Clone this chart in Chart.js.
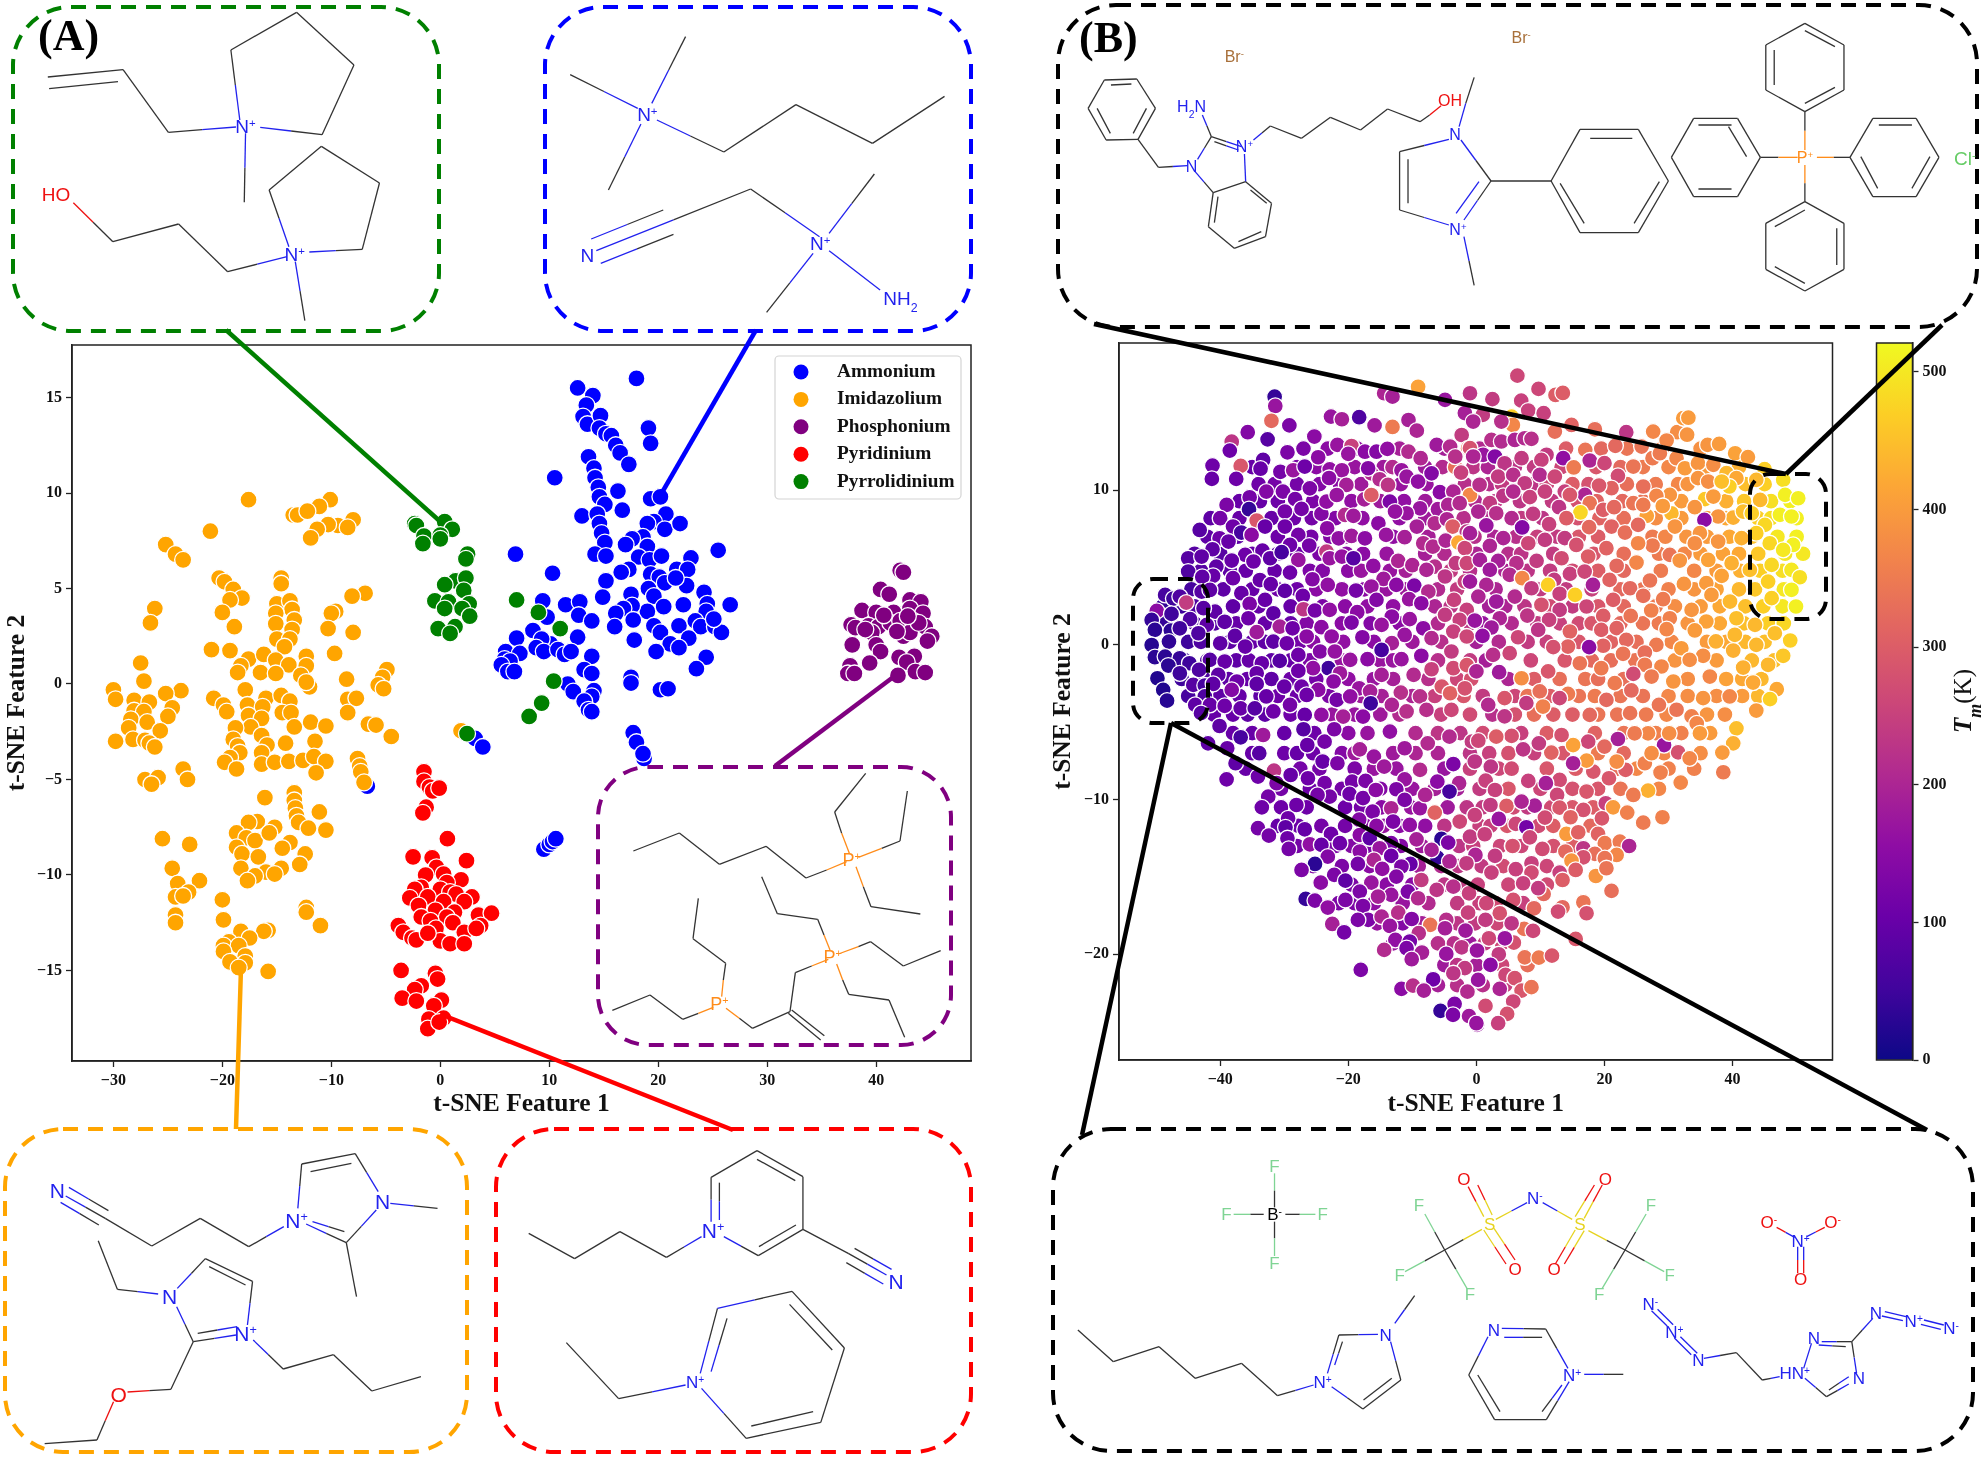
<!DOCTYPE html>
<html lang="en">
<head>
<meta charset="UTF-8" />
<title>t-SNE of ionic liquids</title>
<script src="https://cdnjs.cloudflare.com/ajax/libs/Chart.js/4.4.1/chart.umd.min.js"></script>
<style>
html, body { margin:0; background:#fff; }
#page { position:relative; width:1983px; height:1458px; overflow:hidden; }
canvas { position:absolute; }
svg { position:absolute; left:0; top:0; }
</style>
</head>
<body>
<div id="page">
<canvas id="chartA" width="975" height="815" style="left:0;top:305px"></canvas>
<canvas id="chartB" width="796" height="815" style="left:1040px;top:305px"></canvas>
<canvas id="chartBar" width="113" height="815" style="left:1870px;top:305px"></canvas>
<svg id="over" width="1983" height="1458" xmlns="http://www.w3.org/2000/svg"></svg>
</div>
<script>
// panel A, values
const seriesNames = ['Ammonium','Imidazolium','Phosphonium','Pyridinium','Pyrrolidinium'];
const seriesColors = ['#0000ff','#ffa500','#800080','#ff0000','#008000'];
const ammonium = [[12.6,15.5],[18,16],[14,15.1],[13.4,14.6],[13.1,14],[13.5,13.6],[14.7,14.05],[14.6,13.4],[15.2,13.1],[15.7,13],[16.1,12.5],[16.5,12.1],[17.3,11.5],[19.1,13.4],[19.3,12.6],[13.6,11.9],[14.1,11.3],[14.2,10.8],[14.5,10.3],[14.6,9.8],[15.1,9.4],[10.5,10.8],[16.3,10.1],[16.7,9.1],[19.3,9.7],[20.2,9.8],[13,8.8],[14.4,8.9],[14.6,8.4],[14.8,7.9],[15.1,7.4],[20.7,8.9],[19.6,8.5],[19,8.4],[20.6,8.1],[22,8.4],[25.5,7],[6.9,6.8],[18.6,7.7],[17.6,7.6],[17,7.3],[19,7.2],[14.2,6.8],[15.2,6.7],[18.2,6.65],[19.2,6.5],[20.3,6.7],[23,6.6],[17.3,6],[16.6,5.85],[10.3,5.8],[15.2,5.4],[19.3,5.75],[20.1,5.6],[21.7,6],[22.7,6],[20.6,5.3],[22.6,5.15],[21.6,5.55],[19.1,5],[19.6,4.6],[17.5,4.7],[14.9,4.55],[9.4,4.35],[11.5,4.15],[12.8,4.3],[24.2,4.8],[26.6,4.15],[22.3,4.15],[20.5,4.05],[19,3.8],[17.6,4.1],[16.8,3.95],[16.1,3.7],[24.5,4.2],[24.4,3.8],[12.7,3.6],[9.8,3.5],[13.9,3.3],[17.7,3.35],[19.6,3.05],[21.9,3.05],[23.4,3.3],[23.9,3],[25.2,3],[25.8,2.7],[25.1,3.4],[16,3],[20.2,2.7],[22.8,2.4],[8.5,2.8],[7,2.4],[12.6,2.45],[17.8,2.3],[10.1,2.1],[9.3,2.35],[8.8,1.9],[9.5,1.7],[21.1,2.1],[21.9,1.9],[19.8,1.7],[24.4,1.4],[6,1.7],[7.3,1.6],[5.9,1.3],[6.4,1.2],[5.6,1],[6.2,0.65],[6.8,0.65],[10.8,1.8],[11.4,1.55],[12,1.7],[13.9,1.45],[13.2,0.75],[13.9,0.55],[23.5,0.8],[17.5,0.35],[17.5,0.05],[11.7,0],[14.1,-0.35],[12.2,-0.4],[13.9,-0.65],[20.2,-0.3],[20.9,-0.25],[13.2,-0.9],[13.6,-1.35],[13.9,-1.45],[17.7,-2.55],[18,-3.05],[18.7,-3.9],[18.6,-3.65],[3.2,-2.85],[3.9,-3.3],[-6.7,-5.35],[9.5,-8.65],[10,-8.4],[10.3,-8.25],[10.6,-8.1]];
const imidazolium = [[-17.6,9.65],[-10.1,9.65],[-11.1,9.3],[-13.5,8.85],[-13.1,8.85],[-12.2,9.05],[-21.1,8],[-8,8.6],[-9.4,8.3],[-10.3,8.35],[-11.3,8.1],[-11.9,7.65],[-8.5,8.2],[-25.2,7.3],[-24.3,6.8],[-23.6,6.5],[-20.3,5.55],[-19.8,5.35],[-19,4.95],[-18.2,4.5],[-19.3,4.4],[-14.6,5.55],[-14.6,5.25],[-6.9,4.75],[-8.1,4.6],[-26.2,3.95],[-20,3.75],[-9.6,3.8],[-10,3.7],[-26.6,3.2],[-18.9,3],[-15,4.2],[-13.8,4.35],[-13.6,3.9],[-15.1,3.7],[-13.4,3.35],[-15.1,3.15],[-13.6,2.85],[-15,2.35],[-10.3,2.9],[-8,2.7],[-13.8,2.35],[-21,1.8],[-19.3,1.75],[-17.6,1.3],[-16.2,1.55],[-14.3,1.95],[-9.7,1.6],[-12.3,1.45],[-15.1,1.25],[-13.9,1],[-27.5,1.1],[-12.3,0.95],[-18.3,0.95],[-18.6,0.6],[-16.5,0.6],[-15.1,0.55],[-12.8,0.45],[-27.2,0.15],[-8.6,0.25],[-4.9,0.75],[-5.3,0.35],[-5.7,-0.05],[-5.2,-0.25],[-12,-0.15],[-12.3,0.1],[-17.9,-0.3],[-23.8,-0.35],[-25.2,-0.5],[-30,-0.3],[-29.8,-0.8],[-28.1,-0.85],[-26.7,-0.95],[-20.8,-0.75],[-19.9,-1.1],[-16,-0.75],[-14.6,-0.6],[-13.8,-0.9],[-8.5,-0.8],[-7.7,-0.75],[-17.7,-1.1],[-16.3,-1.2],[-24.6,-1.25],[-28.1,-1.4],[-27.2,-1.45],[-25,-1.7],[-19.6,-1.45],[-17.6,-1.65],[-16.4,-1.8],[-14.5,-1.5],[-13.7,-1.5],[-8.5,-1.5],[-28.4,-1.85],[-26.9,-2],[-17.4,-2.25],[-11.9,-2],[-6.6,-2.1],[-5.9,-2.15],[-10.5,-2.2],[-13.4,-2.25],[-28.6,-2.3],[-25.7,-2.45],[-18.8,-2.3],[-16.4,-2.7],[-4.5,-2.75],[1.9,-2.45],[-29.8,-3],[-28.2,-2.9],[-27.1,-2.95],[-26.7,-3.1],[-26.2,-3.3],[-19,-2.9],[-18.6,-3.25],[-18.4,-3.6],[-14.2,-3.1],[-15.9,-3.2],[-11.5,-3],[-19.3,-3.85],[-19.8,-4.1],[-16.4,-3.6],[-16.4,-4.2],[-15.2,-4.1],[-13.9,-4.05],[-12.6,-4],[-11.6,-3.8],[-10.5,-4.05],[-7.6,-3.9],[-7.4,-4.3],[-7.3,-4.6],[-18.7,-4.45],[-11.4,-4.65],[-23.6,-4.45],[-23.2,-5],[-27.1,-5],[-25.9,-4.9],[-26.5,-5.25],[-7,-5.15],[-13.4,-5.7],[-13.4,-6.1],[-16.1,-5.95],[-13.3,-6.5],[-13.2,-6.9],[-11.1,-6.7],[-16.8,-7.2],[-17.6,-7.25],[-13,-7.25],[-15.2,-7.5],[-12.1,-7.55],[-10.5,-7.65],[-18.7,-7.8],[-17.8,-8.05],[-17,-8.2],[-15.7,-7.8],[-25.5,-8.1],[-23,-8.4],[-13.8,-8.3],[-14.5,-8.6],[-18.7,-8.55],[-18.2,-8.9],[-16.7,-9.05],[-12.4,-8.9],[-12.9,-9.45],[-18.3,-9.65],[-24.6,-9.65],[-16,-9.85],[-14.6,-9.65],[-15.2,-9.95],[-17,-10.05],[-17.7,-10.3],[-22.1,-10.3],[-24.1,-10.45],[-23.1,-10.9],[-24.3,-11.15],[-23.6,-11.1],[-20,-11.3],[-12.3,-11.7],[-12.3,-11.95],[-24.3,-12.1],[-24.3,-12.5],[-19.9,-12.35],[-11,-12.65],[-18.3,-12.95],[-15.8,-12.9],[-16.2,-12.95],[-19.4,-13.5],[-17.5,-13.3],[-19.9,-13.7],[-18.5,-13.7],[-19.9,-14],[-17.9,-14.25],[-19.3,-14.55],[-17.9,-14.6],[-18.5,-14.85],[-15.8,-15.05]];
const phosphonium = [[42.2,5.95],[42.5,5.85],[40.4,4.95],[41.2,4.7],[43.1,4.4],[44.1,4.3],[38.7,3.85],[40,3.75],[41.6,3.75],[43.1,3.95],[44.3,3.7],[37.7,3.1],[38.1,2.95],[39.3,3.05],[40.2,3],[41.3,3.2],[42.2,3.3],[43.4,3.3],[44.5,3],[39.6,2.7],[42.5,2.5],[43.1,2.7],[45.1,2.5],[44.7,2.25],[37.8,2.05],[40,2.05],[40.4,1.7],[42.1,1.4],[43.5,1.45],[39.4,1.1],[37.6,0.95],[42.8,1.15],[37.4,0.55],[38,0.55],[42,0.45],[43.6,0.65],[44.5,0.6],[40.7,3.6],[41.9,2.75],[43.9,3.2],[39,2.85],[42.9,3.55]];
const pyridinium = [[-1.5,-4.6],[-1.5,-5.1],[-1,-5.4],[-0.7,-5.6],[-0.1,-5.45],[-1.3,-6.45],[-1.6,-6.75],[0.65,-8.1],[-2.5,-9.05],[-0.75,-9.1],[2.4,-9.25],[-0.35,-9.6],[0.3,-9.95],[-1.35,-10],[1.9,-10.25],[0.6,-10.4],[-1.75,-10.65],[-2.35,-10.75],[0,-10.75],[0.9,-10.9],[1.45,-11],[-2.8,-11.2],[-1.15,-11.15],[2.9,-11.15],[-2,-11.6],[0.3,-11.4],[2.2,-11.4],[-0.45,-11.85],[-1.75,-12.2],[1.3,-11.95],[3.5,-12.1],[4.7,-12],[0.6,-12.2],[-0.9,-12.4],[1.15,-12.5],[3.7,-12.65],[-3.85,-12.65],[-0.4,-12.8],[-3.4,-13],[-2.6,-13.3],[-2.2,-13.4],[2.2,-13],[3.3,-12.8],[0,-13.45],[0.9,-13.6],[2.2,-13.6],[-1.15,-13.05],[-3.6,-15],[-0.45,-15.15],[-0.25,-15.45],[-1.75,-15.8],[-2.35,-16],[-3.5,-16.45],[-2.2,-16.6],[0.1,-16.55],[-0.6,-16.85],[0.3,-17.5],[-1.05,-17.55],[-1.15,-18.05],[-0.1,-17.7]];
const pyrrolidinium = [[-2.35,8.4],[-2.2,8.3],[-1.5,7.75],[-1.6,7.35],[0.4,8.5],[1.1,8.1],[0,7.8],[0,7.6],[2.5,6.8],[2.35,6.55],[1.4,5.4],[0.4,5.2],[2.35,5.55],[2.15,4.9],[-0.5,4.35],[0.75,4.3],[2.65,4.2],[0.4,3.95],[2,3.95],[2.7,3.55],[-0.2,2.9],[1.35,3],[0.9,2.65],[7,4.4],[9,3.75],[11,2.9],[10.4,0.15],[9.3,-1],[8.15,-1.7],[2.45,-2.6]];
const xTicksA = [-30,-20,-10,0,10,20,30,40];
const yTicksA = [-15,-10,-5,0,5,10,15];

// panel B, [feature 1, feature 2, Tm in K]
const tmBehind = [[-27,12.7,130],[-23.2,12.7,150],[-18.6,12.7,160],[-12,12.7,190],[-5,12.7,190],[0.5,12.7,210],[14,12.7,300],[19.5,12.7,320],[23.5,12.7,340],[29,12.7,360],[35,12.7,385],
[-35,11.5,100],[-28,11.5,130],[-25,11.5,150],[-19,11.5,170],[-14.5,11.5,180],[-8,11.5,180],[-5.3,11.5,210],[-0.5,11.5,230],[1.8,11.5,200],[6,11.5,230],[9,11.5,240],[13.3,11.5,260],[18.7,11.5,290],[22.5,11.5,320],[26,11.5,350],[30,11.5,370],[35.8,11.5,400],[41,11.5,430],
[-34,10.4,110],[-31.5,10.4,120],[-28,10.4,120],[-24.5,10.4,140],[-21.3,10.4,150],[-18,10.4,180],[-11.8,10.4,170],[-7.8,10.4,170],[-1.8,10.4,220],[2,10.4,220],[4,10.4,240],[8.8,10.4,230],[11,10.4,260],[15,10.4,300],[17.5,10.4,280],[23.5,10.4,330],[28,10.4,350],[31.5,10.4,370],[33,10.4,390],[42,10.4,450],[45,10.4,470],
[-37,9.3,100],[-33.8,9.3,100],[-31,9.3,110],[-25.5,9.3,130],[-19.5,9.3,160],[-15,9.3,180],[-11.3,9.3,160],[-8,9.3,180],[-0.2,9.3,210],[3,9.3,230],[6.8,9.3,230],[11.8,9.3,240],[15.8,9.3,280],[18.8,9.3,310],[22.8,9.3,320],[26,9.3,340],[32,9.3,400],[39,9.3,430],[41.8,9.3,460],[46,9.3,490],[49,9.3,510],
[-41.5,8.2,90],[-37,8.2,100],[-32,8.2,100],[-28.5,8.2,110],[-25.7,8.2,120],[-22,8.2,140],[-17.8,8.2,160],[-12,8.2,160],[-8,8.2,180],[-2,8.2,220],[1.8,8.2,210],[7,8.2,240],[10.3,8.2,230],[15.8,8.2,280],[19.2,8.2,310],[23,8.2,330],[28,8.2,380],[32,8.2,400],[36,8.2,400],[39,8.2,420],[44,8.2,470],[46,8.2,490],[50,8.2,510],
[-42,7,90],[-37.3,7,90],[-31,7,110],[-25.8,7,120],[-22.8,7,140],[-20,7,170],[-13,7,160],[-7.5,7,190],[-0.3,7,220],[2.8,7,200],[6.2,7,220],[9.5,7,250],[12.6,7,240],[16,7,290],[19,7,300],[27.5,7,350],[29.5,7,370],[32.8,7,390],[36,7,400],[39.5,7,420],[43,7,450],[47,7,500],[50,7,510],
[-44,5.9,80],[-40,5.9,80],[-35,5.9,100],[-31,5.9,90],[-28,5.9,110],[-24.5,5.9,130],[-20.3,5.9,150],[-17.7,5.9,150],[-14,5.9,170],[-8,5.9,190],[-5,5.9,210],[0,5.9,200],[5,5.9,220],[7,5.9,230],[12,5.9,240],[18.3,5.9,290],[23,5.9,330],[28.5,5.9,350],[32.5,5.9,370],[35,5.9,400],[38.5,5.9,410],[41,5.9,420],[44,5.9,460],[48.2,5.9,500],[51,5.9,500],
[-43,4.8,80],[-38.5,4.8,90],[-36,4.8,100],[-31.5,4.8,100],[-26,4.8,130],[-24,4.8,140],[-20,4.8,150],[-18,4.8,170],[-13.5,4.8,170],[-11,4.8,190],[-4,4.8,240],[-1,4.8,220],[4.5,4.8,200],[8,4.8,230],[11.5,4.8,240],[15,4.8,270],[19,4.8,300],[23,4.8,320],[28.8,4.8,350],[34,4.8,370],[37.5,4.8,400],[41.2,4.8,430],[44.3,4.8,470],[47.8,4.8,490],
[-44.5,3.6,60],[-39.5,3.6,90],[-35,3.6,100],[-31,3.6,110],[-28,3.6,110],[-25,3.6,150],[-21,3.6,160],[-17.5,3.6,150],[-14,3.6,170],[-11,3.6,180],[-6,3.6,210],[-3,3.6,240],[3,3.6,200],[10,3.6,240],[14,3.6,240],[18,3.6,250],[22.5,3.6,320],[26,3.6,340],[30,3.6,360],[34,3.6,390],[37.5,3.6,410],[41,3.6,440],[43.5,3.6,460],[48,3.6,500],
[-49,2.5,40],[-46,2.5,50],[-44,2.5,70],[-38,2.5,90],[-34,2.5,100],[-29,2.5,100],[-24,2.5,130],[-20.5,2.5,150],[-17,2.5,160],[-13,2.5,160],[-6.5,2.5,200],[-4,2.5,230],[2,2.5,190],[4.5,2.5,200],[7.5,2.5,230],[11.5,2.5,270],[15,2.5,240],[19,2.5,290],[23,2.5,320],[28,2.5,350],[31,2.5,380],[35,2.5,400],[38,2.5,420],[42,2.5,450],[44.8,2.5,470],[47.8,2.5,500],
[-48.8,1.4,40],[-44,1.4,70],[-40.8,1.4,80],[-37.5,1.4,100],[-33,1.4,100],[-29,1.4,100],[-26.5,1.4,140],[-21,1.4,150],[-16.5,1.4,140],[-12,1.4,150],[-6,1.4,210],[-1,1.4,230],[1,1.4,170],[5.5,1.4,210],[9.5,1.4,240],[13,1.4,250],[16,1.4,270],[18,1.4,290],[22.5,1.4,320],[26,1.4,340],[28.5,1.4,350],[33,1.4,390],[38,1.4,420],[41.8,1.4,450],[45.5,1.4,470],[48,1.4,480],
[-45,0.2,50],[-43,0.2,70],[-38.5,0.2,90],[-35,0.2,100],[-33,0.2,90],[-27.5,0.2,120],[-25.5,0.2,150],[-20.8,0.2,160],[-16,0.2,150],[-10,0.2,180],[-5.5,0.2,220],[0,0.2,190],[3.5,0.2,210],[8,0.2,240],[11,0.2,250],[16,0.2,290],[21,0.2,310],[25,0.2,330],[30.5,0.2,370],[36,0.2,400],[39,0.2,420],[42,0.2,440],[45,0.2,450],
[-45.5,-1,40],[-42,-1,70],[-37.5,-1,90],[-35.5,-1,100],[-32,-1,90],[-29,-1,100],[-26,-1,130],[-21,-1,170],[-15,-1,170],[-13,-1,170],[-6,-1,220],[-1,-1,240],[1.5,-1,190],[8.5,-1,260],[13.8,-1,290],[18,-1,320],[21,-1,330],[24.8,-1,340],[31,-1,390],[37.5,-1,400],[43,-1,440],[46.5,-1,450],
[-46,-2.2,50],[-42.5,-2.2,70],[-38.7,-2.2,90],[-35.8,-2.2,100],[-32,-2.2,90],[-29,-2.2,110],[-25,-2.2,120],[-20,-2.2,160],[-16,-2.2,170],[-13,-2.2,190],[-7.5,-2.2,220],[-3,-2.2,260],[-0.8,-2.2,280],[5,-2.2,200],[9,-2.2,300],[13,-2.2,330],[17,-2.2,340],[19,-2.2,330],[23,-2.2,330],[33,-2.2,380],[39,-2.2,410],[41.5,-2.2,420],[44.5,-2.2,440],
[-45,-3.3,60],[-40,-3.3,90],[-37,-3.3,100],[-33.7,-3.3,90],[-31,-3.3,110],[-28,-3.3,110],[-23,-3.3,130],[-18,-3.3,180],[-14.8,-3.3,190],[-10,-3.3,200],[-6.5,-3.3,250],[-2,-3.3,290],[1,-3.3,240],[6,-3.3,260],[8,-3.3,340],[11.5,-3.3,300],[16,-3.3,340],[18.5,-3.3,350],[22.5,-3.3,340],[26,-3.3,340],[30,-3.3,370],[33,-3.3,380],[37.5,-3.3,380],[41.5,-3.3,400],[44,-3.3,440],
[-41,-4.5,100],[-38,-4.5,100],[-35.7,-4.5,90],[-33,-4.5,90],[-29,-4.5,110],[-22.5,-4.5,170],[-19,-4.5,170],[-15,-4.5,180],[-12,-4.5,210],[-5.5,-4.5,250],[-1,-4.5,270],[2.5,-4.5,220],[6,-4.5,280],[9,-4.5,330],[12,-4.5,300],[15,-4.5,300],[19,-4.5,340],[22,-4.5,340],[26.5,-4.5,350],[29.7,-4.5,370],[36,-4.5,390],[38.8,-4.5,380],
[-38,-5.7,100],[-35,-5.7,100],[-30,-5.7,100],[-25.3,-5.7,110],[-20,-5.7,150],[-17,-5.7,170],[-9.5,-5.7,210],[-6,-5.7,230],[-2.5,-5.7,230],[1,-5.7,270],[7,-5.7,250],[11,-5.7,300],[18.5,-5.7,310],[23,-5.7,340],[28,-5.7,360],[32,-5.7,360],[36.5,-5.7,400],
[-35,-7,100],[-30,-7,110],[-28,-7,100],[-25.5,-7,110],[-21,-7,140],[-19,-7,180],[-13,-7,180],[-9.5,-7,200],[-6,-7,200],[-1,-7,230],[2,-7,250],[5,-7,280],[9,-7,250],[13.5,-7,290],[19,-7,350],[23,-7,320],[29.3,-7,370],[35,-7,380],
[-36,-8,100],[-27.5,-8,120],[-24.5,-8,120],[-19,-8,130],[-16,-8,170],[-12.5,-8,170],[-5,-8,170],[-1,-8,250],[3.5,-8,260],[5.5,-8,270],[11,-8,290],[15.5,-8,300],[22,-8,330],[25,-8,370],[30,-8,360],[34,-8,360],
[-30.5,-9.3,120],[-26,-9.3,110],[-21,-9.3,120],[-15,-9.3,140],[-10,-9.3,170],[-6.5,-9.3,190],[-3,-9.3,190],[0.5,-9.3,240],[5,-9.3,290],[10,-9.3,260],[15,-9.3,280],[19,-9.3,290],[22.5,-9.3,340],[28.5,-9.3,370],
[-30.5,-10.5,110],[-26.5,-10.5,110],[-20.5,-10.5,110],[-18,-10.5,120],[-14.8,-10.5,150],[-10.2,-10.5,170],[-4.5,-10.5,180],[-1.5,-10.5,230],[1,-10.5,240],[5.8,-10.5,270],[8,-10.5,240],[11.7,-10.5,270],[15,-10.5,290],[18.2,-10.5,300],
[-31,-11.7,100],[-27.8,-11.7,110],[-20.5,-11.7,120],[-17,-11.7,150],[-14.5,-11.7,170],[-12,-11.7,150],[-8,-11.7,160],[-5,-11.7,230],[0.5,-11.7,250],[2.2,-11.7,250],[4.8,-11.7,290],[9.7,-11.7,270],[12,-11.7,300],[17.8,-11.7,320],
[-28,-13,120],[-22,-13,130],[-19.5,-13,140],[-17,-13,130],[-11.8,-13,140],[-8.5,-13,180],[-2.7,-13,230],[-0.5,-13,250],[3.7,-13,260],[7,-13,260],[12,-13,280],[15,-13,300],
[-25.5,-14.3,140],[-21,-14.3,130],[-16.7,-14.3,150],[-9,-14.3,190],[-5.5,-14.3,210],[-2.8,-14.3,230],[0.8,-14.3,240],[4.2,-14.3,270],[11,-14.3,260],
[-19.5,-15.5,130],[-14,-15.5,150],[-10,-15.5,150],[-5,-15.5,230],[-2.7,-15.5,240],[0.2,-15.5,250],[5,-15.5,260],[11,-15.5,270],
[-21.5,-16.7,130],[-19,-16.7,130],[-16,-16.7,160],[-11.5,-16.7,170],[-7.5,-16.7,210],[-3,-16.7,240],[0.5,-16.7,250],[3,-16.7,270],[7.3,-16.7,250],
[-15.5,-18,170],[-11.5,-18,140],[-8.5,-18,190],[-3,-18,230],[-0.2,-18,240],[3.2,-18,260],
[-13,-19.3,170],[-6,-19.3,220],[-3.5,-19.3,220],[-1,-19.3,180],[1.3,-19.3,240],[4,-19.3,260],
[-5,-20.7,180],[-3,-20.7,230],[0,-20.7,190],[4,-20.7,260],[8,-20.7,330],
[-6,-22,190],[-3,-22,220],[1,-22,220],[4.5,-22,250]];
const tmUpperLeft = [[-31.5,16.06,40],[-31.4,15.46,170],[-32,14.5,320],[-29.2,14.2,130],[-35.7,13.76,140],[-38.2,13.15,230],[-32.6,13.3,80],[-38.5,12.57,110],[-29.5,12.46,130],[-33.3,11.97,90],[-41.2,11.6,110],[-36.8,11.58,290],[-33.7,11.4,100],[-41.3,10.74,100],[-37.5,10.74,110],[-30.6,11.2,120],[-28.6,11.3,170],[-26.8,11.54,110],[-24.7,12.14,150],[-25.3,13.48,150],[-22.7,14.77,170],[-21,14.6,190],[-18.3,14.73,70],[-15.9,14.2,180],[-13.1,14.1,350],[-10.6,14.55,190],[-9.3,13.86,200],[-14.4,16.28,200],[-13.1,16.06,190],[-9.1,16.7,410],[-4.9,15.85,170],[-1.8,15,190],[-21.7,12.94,170],[-19.5,12.87,250],[-20,12.36,170],[-17.4,12.5,150],[-15.6,12.5,140],[-13.9,12.68,160],[-10.6,12.5,210],[-8.7,12.08,205],[-6.2,12.94,180],[-4.1,12.83,210],[-2.3,13.58,240],[-1.3,12.72,350],[-3.3,11.5,330],[-2.4,11.15,250],[-3.3,12.18,220],[-13.1,11.5,210],[-11.7,11.3,170],[-16.4,11.1,210],[-16.9,11.43,140],[-22.9,11.36,160],[-21,11.3,170],[-23,10.8,150],[-20.3,10.35,190],[-26,10.13,130],[-32.8,9.92,140],[-30.2,9.92,130],[-28.3,9.43,120],[-35.4,9.55,120],[-39,9.06,130],[-35.5,8.78,40],[-34.3,8.05,290],[-29.9,8.63,120],[-27.3,8.8,120],[-24.2,8.48,140],[-23.4,9.27,160],[-21.8,9.7,170],[-17.5,9.42,190],[-16.4,9.7,300],[-15.1,10.72,210],[-13.8,10.35,230],[-13.5,9.27,130],[-10.9,10.89,170],[-9.1,10.57,160],[-7,11.1,140],[-5.7,9.88,150],[-3.6,9.92,200],[-1,9.7,370],[-8.8,8.84,170],[-10.9,8.52,170],[-12.7,8.63,165],[-20.5,8.41,210],[-19.2,8.35,180],[-6,8.78,180],[-4.4,9.06,200],[-2.6,9.17,210],[-40,8.2,120],[-43.2,7.44,80],[-38,7.66,110],[-36.7,7.27,60],[-35.1,7.12,150],[-33,7.66,100],[-29.9,7.66,110],[-27.8,7.12,120],[-23.3,7.55,150],[-15.3,7.87,150],[-14.1,7.12,170],[-21.5,6.9,160],[-19.5,7.05,180],[-17.4,6.9,150],[-11.2,6.97,190],[-9.3,7.66,190],[-6.5,7.87,210],[-4.6,8.13,200],[-3.7,7.66,300],[-1.5,7.33,230],[-8.3,6.58,210],[-6.8,6.36,210],[-4.8,6.75,200],[-2.8,6.62,420],[-1.8,6.26,260],[-40.1,6.9,110],[-38.7,6.69,100],[-41.2,6.19,90],[-29.1,6.47,110],[-26.1,6.43,120],[-33.4,6.1,100],[-36.1,5.83,110],[-32.2,5.61,90],[-30.4,6,60],[-45,5.61,80],[-42.9,5.72,90],[-38.2,5.46,100],[-27.8,5.5,170],[-23.4,6.04,240],[-22.9,5.61,170],[-21,5.72,165],[-19.2,5.61,80],[-16.1,5.11,160],[-12.2,5.44,200],[-10,5.16,200],[-6.5,5.07,220],[-3.2,5.29,240],[-1.5,5.29,260],[-45,4.75,70],[-40.6,5.07,90],[-41.1,4.47,100],[-34.8,5.4,110],[-33.8,4.2,100],[-29.1,4.68,110],[-25.6,4.25,140],[-38,4.32,110],[-42.8,4.4,90],[-14.5,4.27,180],[-16.4,3.78,170],[-12.5,3.89,150],[-9.7,3.84,130],[-7.8,4.86,200],[-4.9,4.43,230],[-1.8,4.1,250],[-7.5,3.45,210],[-48.6,3.24,60],[-47.3,3,50],[-46.3,3.13,70],[-45.3,2.74,240],[-49.9,2.2,150],[-47.6,2.01,50],[-42.9,3.45,80],[-41.6,3.56,90],[-36.7,3.35,100],[-32.1,3.93,100],[-29.9,3.5,90],[-27.1,3.17,110],[-23.2,3.89,160],[-18.8,3.52,120],[-15.6,2.92,140],[-10.5,2.96,170],[-8.6,2.7,150],[-3.5,2.92,250],[-1.5,2.27,250],[-40.8,2.16,90],[-42.6,2.38,80],[-35.4,2.66,130],[-33,2.92,100],[-31.7,2.05,90],[-27,2.31,230],[-25.2,2.23,120],[-22.9,2.27,160],[-18.6,2.12,150],[-13.2,1.84,150],[-10.4,1.67,170],[-4.9,1.95,240],[-2.6,1.62,250],[-50.7,1.62,40],[-44.7,1.67,70],[-35.6,1.73,110],[-39.3,1.5,90],[-42.1,1.3,90],[-50.2,0.98,30],[-47.7,0.93,30],[-46.3,1.08,50],[-43.4,0.76,70],[-37.7,0.59,90],[-34.3,0.83,180],[-30.7,1.19,190],[-28.7,1.08,110],[-26.5,0.55,150],[-24.2,1.15,150],[-22.6,0.55,160],[-19.5,1.45,130],[-17.8,0.5,140],[-14.8,1.3,170],[-11.2,0.65,170],[-8.3,1.08,150],[-3.6,0.87,250],[-1.5,0.55,260],[-7,0.44,210],[-50.7,0,25],[-48,0.22,35],[-31.7,0.22,90],[-40,0.11,90],[-36.1,-0.1,100],[-29.6,0.11,110],[-13.2,0.12,190],[-14.8,-0.32,60],[-24.4,-0.42,140],[-22.1,-0.42,165],[-50.2,-0.79,30],[-48.6,-0.75,30],[-46.3,-0.86,40],[-41.6,-0.96,80],[-39.3,-1.07,100],[-30.7,-1.03,80],[-27.8,-0.64,110],[-19.7,-0.96,170],[-17,-0.92,150],[-11.7,-0.92,170],[-8.6,-0.7,150],[-3.9,-0.42,240],[-48.1,-1.33,30],[-44.8,-1.18,50],[-33.5,-1.18,100],[-23.1,-1.5,50],[-25.5,-1.5,160],[-7,-1.57,250],[-3.6,-1.5,270],[-1.5,-1.3,290],[-43.3,-1.61,70],[-46.3,-1.83,50],[-40.3,-1.93,90],[-34.3,-1.83,100],[-27.8,-1.67,110],[-21.3,-1.83,180],[-14.8,-1.93,190],[-9.8,-1.93,210],[-49.8,-2.15,20],[-44.2,-2.58,80],[-37.4,-2.36,110],[-22.3,-2.36,150],[-42.4,-2.62,60],[-41.1,-2.52,90],[-34.3,-2.52,90],[-30,-2.69,100],[-27.3,-2.69,110],[-18.3,-2.8,170],[-16.6,-3,190],[-11.8,-3.08,220],[-5.4,-2.69,290],[-4.1,-3.12,310],[-1.8,-2.8,280],[-48.9,-2.9,20],[-48.3,-3.6,25],[-42.4,-3.33,70],[-38.2,-2.9,140],[-24.7,-2.9,150],[-26.5,-3.23,110],[-32.8,-3.33,100],[-21.8,-3.55,120],[-16.5,-3.77,50],[-19.7,-3.33,160],[-8.8,-3.33,220],[-43.9,-3.87,90],[-41.6,-3.87,100],[-39.3,-3.94,110],[-36.8,-4.1,100],[-34.6,-4.1,80],[-31.7,-4.3,110],[-29.1,-3.87,120],[-26.8,-4.52,100],[-24.2,-4.52,160],[-20.8,-4.63,190],[-17.7,-4.63,150],[-13.2,-3.87,200],[-10.9,-4.3,220],[-7.8,-4.2,220],[-3.9,-4.2,260],[-43,-4.41,80]];
const tmUpperRight = [[6.4,17.42,260],[9.7,16.56,260],[12.35,16.17,300],[13.5,16.3,300],[2.5,15.9,240],[7,15.8,250],[-1,16.28,230],[8.1,15.16,250],[10.5,14.99,250],[1,14.88,240],[5.5,14.77,470],[5.7,14.23,370],[3.9,14.45,220],[-0.5,14.45,200],[12.25,13.8,330],[14.85,14.23,310],[18.5,13.95,330],[23.4,13.76,230],[27.6,13.8,370],[31.35,13.76,380],[32.3,14.67,400],[33.1,14.7,400],[32.9,13.6,390],[29.7,13.22,370],[25.8,12.83,340],[21.7,12.88,320],[17,12.62,340],[36.1,12.94,390],[37.9,13,400],[40.4,12.4,410],[42.4,12.15,400],[45,11.37,470],[2.35,13.26,220],[3.9,13.16,210],[6,13.26,200],[7.55,13.37,210],[8.6,13.33,220],[-1,12.73,280],[1.05,12.3,170],[-0.5,12.19,200],[2.9,12.19,140],[7.05,12.08,240],[4.4,11.75,230],[10.95,12.3,240],[13.55,12.08,160],[10.15,11.97,250],[15.2,11.48,350],[17.7,11.93,200],[20,11.76,260],[24.5,11.54,340],[27.5,12.08,350],[28.65,12.4,350],[31.25,12.08,370],[32.55,11.43,400],[34.6,11.76,390],[37,11.65,380],[39.05,11.11,440],[40.6,10.79,420],[43.7,10.68,440],[47.9,10.68,490],[34.6,10.79,390],[36.2,10.57,380],[39.5,10.25,470],[38.3,10.57,450],[9.9,11,210],[3.4,10.89,240],[5.75,11,220],[0.5,10.36,220],[12.25,10.89,260],[22.1,10.94,270],[7.55,10.46,240],[21.1,10.14,310],[19.15,10.31,290],[26.05,10.25,330],[13.8,9.92,250],[16.95,9.71,200],[4.2,9.64,230],[2.1,9.17,240],[8.35,9.56,250],[5.75,9.92,210],[10.7,9.92,250],[17.7,9.17,340],[14.6,9.71,290],[30.2,9.71,390],[28.1,9.64,370],[35.7,9.43,460],[37,9.6,400],[44.3,9.38,440],[48.2,9.71,510],[50.25,9.49,510],[34.1,8.91,390],[30.45,8.52,440],[26.6,8.35,410],[29.1,8.99,400],[40.1,8.24,430],[37.75,8.31,390],[35.6,8.09,150],[41.65,8.63,450],[47.4,8.42,510],[49.2,8.31,510],[43,8.52,470],[45.05,7.77,480],[12.9,8.91,230],[19.8,8.74,300],[21.5,8.91,320],[24.5,9.17,340],[16.25,8.57,480],[26.05,9.06,350],[8.85,8.48,240],[5.5,8.2,210],[3.1,8.52,220],[0.3,8.63,200],[7.15,7.6,140],[1.55,7.73,170],[11.35,7.81,250],[14.05,8.2,300],[17.6,7.62,320],[21.1,7.66,310],[23.2,7.27,330],[25.25,7.77,320],[31,7.66,390],[34.9,7.23,390],[37.75,6.69,390],[41.4,6.91,430],[49.45,6.47,510],[45.8,6.58,480],[47.9,6.15,500],[43.7,7.23,470],[-1,7.23,190],[4.2,6.91,200],[8.1,6.58,260],[10.7,6.8,240],[13.8,6.91,240],[15.6,6.47,280],[2.1,6.41,200],[20.3,6.26,310],[27.5,6.43,350],[25.25,6.58,370],[30.2,5.83,340],[34.1,6.58,380],[31.75,5.46,390],[36.2,5.5,410],[39.85,5.29,430],[42.7,4.86,450],[46.1,5.18,480],[49.2,4.86,500],[50.5,4.38,490],[3.4,5.44,190],[6.25,5.29,220],[9.4,5.44,240],[17.45,5.72,300],[21.9,5.12,320],[25,5.33,370],[13.3,5.61,270],[0.55,5.5,190],[2.1,4.86,180],[-1,4.1,180],[1.55,3.89,200],[5.2,4.54,210],[7.15,4.32,370],[14.6,4.6,250],[16.9,4.75,260],[12.15,4.21,240],[18.2,3.89,190],[11.2,3.89,470],[20.8,4.21,310],[27.1,4.17,340],[32.4,3.95,390],[35.9,4,400],[38.3,4.47,410],[45.55,4.1,470],[8.6,3.67,240],[6,3.13,210],[0.3,3.13,200],[3.1,2.81,180],[13,3.31,250],[15.4,3.24,470],[24,3.67,320],[26.05,3.18,330],[29.15,2.96,350],[21.35,2.92,300],[46.1,3.03,470],[49.2,3.57,510],[49.9,2.49,510],[39.6,2.81,440],[36.7,3.24,400],[33.6,2.27,390],[10.15,2.6,280],[17.2,2.49,260],[13,2.27,240],[7.95,1.9,230],[3.65,1.73,200],[-0.25,1.58,170],[2.35,1.13,180],[19.8,1.88,300],[11.35,1.63,250],[24.1,1.88,340],[27.3,2.23,360],[30.2,1.73,360],[35.9,1.52,410],[40.6,1.73,450],[43.5,1.3,440],[46.6,0.76,450],[49,0.29,470],[40.35,0.66,440],[29.7,1.02,370],[34.1,0.94,400],[14.6,0.87,310],[19.5,0.98,300],[21.9,1.09,310],[9.65,0.98,230],[6.5,0.5,260],[0.95,0.59,160],[28.1,0.01,350],[37.4,0.23,430],[43.7,0.01,440],[19.8,-0.05,310],[17.6,-0.14,150],[14.3,-0.1,310],[12,-0.14,280],[23.4,0.33,320],[32,-0.21,400],[5.2,-0.53,260],[2.6,-0.64,220],[26.3,-0.49,330],[40.1,-0.36,430],[47.9,-0.7,460],[45.55,-1.28,440],[35.4,-0.7,380],[41.65,-1.46,430],[33.3,-0.96,380],[22.9,-0.57,340],[16.15,-1.18,340],[19.5,-1.5,350],[0,-1.71,200],[3.55,-1.76,180],[7.05,-2.15,380],[11.2,-1.71,290],[26.3,-1.28,350],[24.5,-1.87,270],[28.9,-1.39,370],[36.45,-2.04,370],[30.75,-2.36,390],[43.2,-2.43,420],[46.9,-2.86,420],[45.85,-3.5,470],[39.55,-3.33,370],[27.35,-2.04,350],[21.6,-2.47,350],[1.85,-3.87,210],[7.8,-3.76,240],[4.4,-3.44,290],[9.9,-3,330],[14.3,-3.16,350],[13,-3.44,260],[17.7,-4.52,320],[20.3,-3.55,320],[24.2,-2.94,320],[28.5,-3.87,340],[31.25,-4.19,340],[35.4,-3.44,390],[43.7,-4.24,400],[33.6,-4.62,360],[10.4,-3.98,360],[4.4,-4.62,230],[24,-4.41,340]];
const tmLowerLeft = [[-41.9,-6.36,90],[-39,-8.69,110],[-37.6,-7.65,90],[-38.9,-6.68,100],[-36.8,-5.97,60],[-40.1,-5.24,90],[-33.9,-7,80],[-33.3,-5.82,180],[-31.6,-8.13,230],[-34.1,-8.51,110],[-31.2,-8.94,130],[-32.5,-9.81,120],[-33.5,-10.5,110],[-29,-8.41,100],[-26.3,-8.62,110],[-26.4,-6.47,100],[-27,-5.45,80],[-23.7,-6.25,120],[-22.2,-5.45,130],[-24,-7.54,100],[-21.7,-7.65,130],[-18.2,-6.75,190],[-16,-7.22,170],[-13.5,-5.6,160],[-11.2,-6.68,180],[-7.6,-6.36,210],[-4.2,-5.93,210],[-0.7,-6.25,240],[3.1,-5.88,340],[-14.4,-7.87,180],[-11.2,-8.69,170],[-8.8,-8.08,210],[-6.1,-8.84,150],[-3.6,-7.7,130],[-2.7,-8.94,200],[-0.25,-7.54,230],[2.25,-7.87,230],[1.45,-8.77,250],[-23.7,-8.94,120],[-19.4,-8.84,120],[-17.3,-8.79,130],[-22.9,-9.81,120],[-19.8,-9.63,110],[-17.7,-9.9,120],[-12.5,-9.33,130],[-15.7,-9.38,150],[-28.1,-10.35,110],[-24.8,-9.7,120],[-13.3,-10.56,200],[-11.2,-10.02,130],[-16.2,-10.78,130],[-8.8,-10.56,170],[-8,-9.7,200],[-4.2,-9.48,60],[-6.5,-10.84,310],[-2.6,-11.42,260],[-0.25,-11,250],[2.9,-9.38,250],[4.7,-10.41,300],[2.2,-10.35,240],[3.55,-11.25,170],[-29.4,-11.21,110],[-34.1,-11.85,120],[-32.4,-12.33,120],[-29.8,-11.79,90],[-26.8,-11.92,100],[-29.5,-12.5,110],[-29.3,-13.19,120],[-24.2,-11.7,120],[-22.7,-12.22,110],[-26,-12.89,160],[-24.2,-12.93,100],[-21.3,-12.82,110],[-18.3,-11.3,140],[-15.6,-11.7,150],[-13,-11.42,130],[-10.4,-11.64,160],[-18.2,-12.29,150],[-16.65,-12.5,90],[-9.35,-12.57,190],[-13.3,-12.82,130],[-5.45,-12.54,30],[-4.4,-12.78,130],[-6.1,-13.75,40],[-1,-12.4,240],[1.3,-12.24,250],[5.6,-13,300],[-23.2,-13.69,140],[-18.2,-13.36,150],[-15.1,-13.15,170],[-13.3,-13.64,110],[-10.3,-14.16,100],[-16,-13.9,200],[-18.5,-14.16,120],[-25.2,-14.16,30],[-27.3,-14.55,130],[-14.7,-14.48,160],[-11.7,-14.33,130],[-7,-13.25,190],[-4.2,-14,200],[-0.15,-13.58,200],[2.9,-13.64,240],[-1.55,-14.12,240],[-22.2,-14.87,130],[-24.3,-15.37,150],[-20.45,-15.24,90],[-16.4,-15.37,170],[-12.5,-14.98,140],[-8.6,-15.2,240],[-3.6,-15.63,220],[2.35,-14.72,250],[-6.2,-15.84,230],[-1.15,-16.06,250],[-18.2,-15.95,130],[-10.7,-15.95,130],[-13.3,-16.16,170],[-15.35,-16.27,190],[-26.65,-16.42,40],[-25.2,-16.53,130],[-20.45,-16.49,130],[-23.2,-16.98,160],[-17.7,-16.88,130],[-9.1,-16.38,210],[1.55,-16.7,260],[-1.3,-17.31,250],[-4.7,-17.78,220],[-12.2,-17.31,220],[-16.9,-17.78,130],[-18.5,-17.78,130],[-10.1,-17.72,140],[-7.2,-18.1,340],[-14.8,-17.57,200],[-13.5,-18.17,170],[-22.5,-18.04,190],[-20.65,-18.58,120],[-4.9,-18.32,190],[-1.7,-18.47,180],[2,-18.97,260],[-9,-18.64,220],[-12.65,-19.07,160],[-10.4,-19.18,120],[-14.4,-19.72,210],[-10.9,-19.61,130],[-8.5,-19.89,190],[-10.1,-20.32,180],[-2.3,-19.55,230],[-4.7,-19.98,170],[0,-19.72,180],[-1.8,-20.9,240],[-3.6,-21.23,230],[-18.05,-21.01,130],[-6.75,-21.62,110],[0.25,-21.66,190],[-11.7,-22.24,150],[-9.9,-22.03,220],[-8.2,-22.35,190],[-1.4,-22.42,210],[-5.6,-23.66,40],[-3.4,-23.21,130],[-3.65,-23.92,130],[-1.15,-24,180],[0.1,-24.57,170]];
const tmLowerRight = [[40.6,-5.39,450],[40.1,-6.36,430],[38.4,-6.96,400],[38.55,-8.23,350],[34.4,-5.07,370],[34.9,-5.71,400],[31.5,-6.94,280],[33.3,-7.33,370],[29.3,-6.47,170],[30.1,-5.71,380],[26.8,-5.71,370],[24.7,-5.71,350],[22.1,-6.08,190],[26.3,-7.65,360],[28.75,-8.25,360],[31.9,-8.9,370],[27.35,-7,380],[23.3,-8.08,300],[26.8,-9.42,430],[20.7,-8.62,290],[21.9,-7.54,380],[24.5,-9.7,350],[20,-6.57,320],[17.45,-6.25,260],[18.25,-8.19,290],[17.2,-7.48,400],[15.1,-7.65,190],[15.1,-6.47,410],[13.3,-5.82,280],[11.7,-6.96,310],[9.75,-6.36,240],[7.3,-6.75,230],[5.5,-5.88,280],[3.1,-5.93,300],[0.3,-6.19,260],[17.2,-9.48,290],[20.2,-10.24,250],[21.35,-10.5,400],[13,-8.73,270],[10.85,-8.94,190],[8.1,-8.79,250],[12.6,-9.7,260],[16.7,-10.67,280],[13,-10.52,290],[10.7,-11.16,270],[9.1,-10.39,190],[7.05,-10.13,200],[23.55,-10.84,360],[26.05,-11.49,350],[29.05,-11.14,360],[19.6,-11.21,290],[14.7,-11.14,310],[3.5,-11.25,170],[6.15,-11.57,260],[7.8,-11.79,120],[8.35,-12.44,260],[14.05,-12.22,400],[15.9,-12.11,310],[19,-12.22,310],[5.65,-13,280],[10.3,-13.19,270],[20.05,-12.82,350],[22.4,-12.72,350],[23.85,-13,200],[13.9,-13.36,320],[16.7,-13.15,230],[18.5,-13.51,330],[21.9,-13.58,370],[20.05,-13.79,340],[16.7,-13.73,280],[14.85,-13.95,390],[15.5,-14.55,300],[18.65,-14.94,390],[20.3,-14.44,340],[13,-14.72,250],[13.45,-15.2,300],[8.6,-14.12,250],[8.6,-14.72,270],[6.15,-14.5,250],[21.1,-15.9,330],[10.5,-16.1,320],[7.3,-15.41,250],[9.65,-15.73,240],[5.75,-16.49,280],[16.7,-16.64,340],[13.45,-16.96,320],[12.75,-17.24,270],[17.2,-17.35,280],[9,-17.03,320],[3.65,-17.35,280],[1.42,-17.78,240],[7.45,-18.36,340],[8.85,-18.49,260],[5.5,-18,230],[15.5,-19.01,290],[5.85,-19.25,280],[1.95,-18.97,260],[4.45,-18.97,170],[0.1,-19.76,170],[3.5,-20,240],[7.55,-20.2,340],[9.75,-20.22,350],[11.8,-20.09,290],[2.2,-20.69,150],[0.27,-21.66,170],[4.55,-21.34,260],[6,-21.55,280],[3.65,-22.24,200],[7.05,-22.35,290],[8.6,-22.13,340],[1.42,-23.34,270],[5.75,-23.06,260],[4.8,-23.86,280],[3.4,-24.46,250],[0,-24.46,170]];
const xTicksB = [-40,-20,0,20,40];
const yTicksB = [-20,-10,0,10];
const tmTicks = [0,100,200,300,400,500];

// plasma colour map, 0 to 521 K on the colour bar
const tmMax = 521;
const plasmaStops = ['#0d0887','#41049d','#6a00a8','#8f0da4','#b12a90','#cc4778','#e16462','#f2844b','#fca636','#fcce25','#f0f921'];
function plasma(t) {
	const f = Math.min(0.9999, Math.max(0, t / tmMax)) * 10;
	const i = Math.floor(f), k = f - i;
	const a = parseInt(plasmaStops[i].slice(1), 16), b = parseInt(plasmaStops[i + 1].slice(1), 16);
	const mix = s => Math.round(((a >> s) & 255) * (1 - k) + ((b >> s) & 255) * k);
	return 'rgb(' + mix(16) + ',' + mix(8) + ',' + mix(0) + ')';
}

const serif = '"Liberation Serif", "Times New Roman", serif';
const tickFont = { family: serif, size: 16, weight: 'bold' };
const titleFont = { family: serif, size: 25.5, weight: 'bold' };
const minus = v => String(v).replace('-', '\u2212');

function axis(ticks, min, max, title, fit, padding) {
	return {
		type: 'linear', min: min, max: max,
		afterBuildTicks: s => { s.ticks = ticks.map(v => ({ value: v })); },
		afterFit: fit,
		ticks: { font: tickFont, color: '#111', padding: 4, maxRotation: 0, autoSkip: false, callback: minus },
		grid: { drawOnChartArea: false, tickLength: 6, color: '#222', tickWidth: 1.3 },
		border: { color: '#222', width: 1.5 },
		title: { display: !!title, text: title, font: titleFont, color: '#111', padding: padding }
	};
}

// axes frame is closed on all four sides
const framePlugin = {
	id: 'frame',
	afterDatasetsDraw(chart) {
		const a = chart.chartArea, c = chart.ctx;
		c.save();
		c.strokeStyle = '#222';
		c.lineWidth = 1.5;
		c.strokeRect(a.left, a.top, a.right - a.left, a.bottom - a.top);
		c.restore();
	}
};

const legendPlugin = {
	id: 'seriesLegend',
	afterDatasetsDraw(chart) {
		const c = chart.ctx;
		c.save();
		c.fillStyle = 'rgba(255,255,255,0.85)';
		c.strokeStyle = '#d4d4d4';
		c.lineWidth = 1.2;
		c.beginPath();
		c.roundRect(775, 51, 186, 143, 4);
		c.fill();
		c.stroke();
		c.font = 'bold 19.3px ' + serif;
		c.textBaseline = 'middle';
		seriesNames.forEach((name, i) => {
			const y = 67 + i * 27.4;
			c.fillStyle = seriesColors[i];
			c.beginPath();
			c.arc(801, y, 7.5, 0, Math.PI * 2);
			c.fill();
			c.fillStyle = '#111';
			c.fillText(name, 837, y);
		});
		c.restore();
	}
};

const seriesA = [ammonium, imidazolium, phosphonium, pyridinium, pyrrolidinium];
new Chart(document.getElementById('chartA'), {
	type: 'scatter',
	data: {
		datasets: seriesA.map((d, i) => ({
			label: seriesNames[i], data: d, order: seriesA.length - i,
			backgroundColor: seriesColors[i], borderColor: '#fff',
			pointRadius: 8.5, pointBorderWidth: 1.3
		}))
	},
	options: {
		responsive: false, animation: false, events: [],
		layout: { autoPadding: false, padding: { top: 40, right: 4 } },
		plugins: { legend: { display: false }, tooltip: { enabled: false } },
		scales: {
			x: axis(xTicksA, -33.8, 48.7, 't-SNE Feature 1', s => { s.height = 59; }, { top: 0, bottom: 0.6 }),
			y: axis(yTicksA, -19.74, 17.75, 't-SNE Feature 2', s => { s.width = 72; }, { top: 1.7, bottom: 0 })
		}
	},
	plugins: [framePlugin, legendPlugin]
});

const tmPoints = [].concat(tmBehind, tmUpperLeft, tmUpperRight, tmLowerLeft, tmLowerRight);
new Chart(document.getElementById('chartB'), {
	type: 'scatter',
	data: {
		datasets: [{
			label: 'Tm',
			data: tmPoints.map(p => ({ x: p[0], y: p[1] })),
			backgroundColor: tmPoints.map(p => plasma(p[2])),
			borderColor: '#fff', pointRadius: 8, pointBorderWidth: 1.3
		}]
	},
	options: {
		responsive: false, animation: false, events: [],
		layout: { autoPadding: false, padding: { top: 38, right: 3.5 } },
		plugins: { legend: { display: false }, tooltip: { enabled: false } },
		scales: {
			x: axis(xTicksB, -55.8, 55.6, 't-SNE Feature 1', s => { s.height = 60; }, { top: 0, bottom: 0.6 }),
			y: axis(yTicksB, -26.84, 19.53, 't-SNE Feature 2', s => { s.width = 79; }, { top: 7.7, bottom: 0 })
		}
	},
	plugins: [framePlugin]
});

// colour bar is one full-height bar with the plasma gradient
new Chart(document.getElementById('chartBar'), {
	type: 'bar',
	data: {
		labels: ['Tm'],
		datasets: [{
			data: [tmMax], barPercentage: 1, categoryPercentage: 1, borderWidth: 0,
			backgroundColor(ctx) {
				const a = ctx.chart.chartArea;
				if (!a) return '#000';
				const g = ctx.chart.ctx.createLinearGradient(0, a.bottom, 0, a.top);
				plasmaStops.forEach((c, i) => g.addColorStop(i / 10, c));
				return g;
			}
		}]
	},
	options: {
		responsive: false, animation: false, events: [],
		layout: { autoPadding: false, padding: { left: 6.5, top: 38, bottom: 60 } },
		plugins: { legend: { display: false }, tooltip: { enabled: false } },
		scales: {
			x: { display: false },
			y: Object.assign(axis(tmTicks, 0, tmMax, '', s => { s.width = 70.5; }, 0), { position: 'right' })
		}
	},
	plugins: [framePlugin]
});

/* ---- insets: dashed frames, leader lines and the molecule sketches ---- */
const svg = document.getElementById('over');
const NS = 'http://www.w3.org/2000/svg';
function el(name, attrs, text) {
	const e = document.createElementNS(NS, name);
	for (const k in attrs) e.setAttribute(k, attrs[k]);
	if (text) e.textContent = text;
	svg.appendChild(e);
	return e;
}

const atomColor = { k:'#333333', b:'#2222ee', r:'#ee1111', o:'#ff8c1a', f:'#7fd494', y:'#e6d320', n:'#a8703a', g:'#66cc66', d:'#000000' };

// frames: x, y, w, h, radius, colour
const frames = [
	[13,7,426,324,58,'#008000'],[545,7,426,324,58,'#0000ff'],[598,767,353,278,50,'#800080'],
	[5,1129,462,323,58,'#ffa500'],[496,1129,475,323,58,'#ff0000'],
	[1058,5,919,322,58,'#000'],[1053,1129,920,322,58,'#000'],
	[1133,579,75,144,20,'#000'],[1750,474,76,145,20,'#000']
];
// leaders: x1, y1, x2, y2, colour
const leaders = [
	[226,330,443,524,'#008000'],[756,330,660,496,'#0000ff'],[775,766,896,675,'#800080'],
	[241,968,236,1129,'#ffa500'],[440,1014,733,1130,'#ff0000'],
	[1094,324,1786,474,'#000'],[1786,474,1942,325,'#000'],
	[1171,723,1082,1135,'#000'],[1171,723,1927,1130,'#000']
];
leaders.forEach(l => el('line', { x1:l[0], y1:l[1], x2:l[2], y2:l[3], stroke:l[4], 'stroke-width':4.5 }));
frames.forEach(f => el('rect', { x:f[0], y:f[1], width:f[2], height:f[3], rx:f[4], ry:f[4], fill:'none', stroke:f[5], 'stroke-width':4, 'stroke-dasharray':'15 10' }));

// each sheet is in its own grid: ox, oy are the page offset, sx, sy the grid units per page pixel
const sheets = [
	{ ox:0, oy:0, sx:1.568, sy:3, size:19,
	  bonds:[[75,231,193,209,'k'],[77,266,185,245,'k'],[193,209,264,397,'k'],[264,397,370,381,'kb'],[376,360,362,150,'bk'],[362,150,465,37,555,195,505,404,'k'],[505,404,408,382,'kb'],[385,400,383,607,'bk'],
	         [115,608,177,725,'rk'],[177,725,280,672,357,815,'k'],[357,815,450,770,'kb'],[453,740,422,570,'bk'],[422,570,504,439,595,549,568,748,'k'],[568,748,485,756,'kb'],[463,785,478,962,'bk'],
	         [894,224,1000,325,'kb'],[1075,110,1022,310,'kb'],[954,570,1005,372,'kb'],[1030,360,1135,456,'bk'],[1135,456,1248,314,1368,430,1481,289,'k'],
	         [935,752,1177,567,'bk'],[927,717,1040,630,'bk'],[942,790,1056,703,'bk'],[1177,567,1285,710,'kb'],[1371,522,1300,700,'kb'],[1202,937,1275,760,'kb'],[1300,752,1380,870,'b']],
	  labels:[[385,378,'N+','b'],[462,762,'N+','b'],[88,583,'HO','r'],[1015,342,'N+','b'],[921,765,'N','b'],[1286,730,'N+','b'],[1412,895,'NH2','b']] },
	{ ox:580, oy:750, sx:3, sy:3, size:18,
	  bonds:[[160,303,298,249,418,343,558,289,678,384,740,360,'k'],[740,360,800,335,'o'],[857,70,764,186,785,250,'k'],[785,250,808,310,'o'],[982,123,960,273,905,295,'k'],[905,295,835,322,'o'],[828,350,850,410,'o'],[850,410,873,470,1021,492,'k'],
	         [545,380,592,491,713,508,732,555,'k'],[732,555,750,600,'o'],[1082,602,970,648,872,575,835,590,'k'],[835,590,775,612,'o'],[770,642,788,690,'o'],[788,690,806,733,927,750,974,862,'k'],[745,628,695,648,'o'],[695,648,646,668,630,785,'k'],[630,785,517,835,478,805,'k'],[478,805,438,775,'o'],[625,790,722,870,'k'],[635,780,733,857,'k'],
	         [355,445,339,566,437,640,430,690,'k'],[430,690,425,740,'o'],[97,781,210,735,308,808,355,790,'k'],[355,790,400,772,'o']],
	  labels:[[815,328,'P+','o'],[758,620,'P+','o'],[418,762,'P+','o']] },
	{ ox:0, oy:1110, sx:1.568, sy:3, size:21,
	  bonds:[[108,232,170,302,'bk'],[95,277,155,345,'bk'],[103,258,165,325,'bk'],[165,325,238,408,314,325,390,410,'k'],[390,410,445,350,'kb'],[467,295,473,162,'bk'],[473,162,557,131,'k'],[487,185,551,160,'k'],[557,131,593,245,'kb'],[612,280,686,295,'bk'],[590,300,543,398,'bk'],[543,398,480,342,'kb'],[540,365,490,335,'kb'],[543,398,559,560,'k'],
	         [154,392,184,538,'k'],[184,538,248,552,'kb'],[278,535,322,446,'bk'],[322,446,396,514,'k'],[328,470,385,525,'k'],[396,514,388,645,'kb'],[277,590,303,695,'bk'],[303,695,370,675,'kb'],[310,670,372,650,'kb'],[303,695,268,838,'k'],[268,838,200,846,'kr'],[178,875,152,990,'rk'],[152,990,70,1001,'k'],[397,690,444,777,'bk'],[444,777,523,734,583,843,660,800,'k'],
	         [829,370,901,446,972,365,1045,442,'k'],[1045,442,1100,380,'kb'],[1115,335,1115,202,'bk'],[1128,330,1128,218,'bk'],[1115,202,1187,122,1259,200,1259,358,'k'],[1187,148,1247,212,'k'],[1259,358,1189,437,'k'],[1190,410,1248,345,'k'],[1189,437,1135,380,'kb'],[1259,358,1330,430,'k'],[1330,430,1390,495,'kb'],[1340,415,1398,478,'kb'],[1327,458,1385,522,'kb'],
	         [888,698,970,866,'k'],[970,866,1075,825,'kb'],[1098,790,1125,595,'bk'],[1115,785,1140,625,'bk'],[1125,595,1242,544,'bk'],[1242,544,1324,714,1287,937,1170,985,'k'],[1238,583,1305,720,'k'],[1275,905,1178,948,'k'],[1170,985,1100,835,'kb']],
	  labels:[[90,242,'N','b'],[465,330,'N+','b'],[600,275,'N','b'],[266,558,'N','b'],[385,670,'N+','b'],[186,852,'O','r'],[1118,360,'N+','b'],[1405,515,'N','b'],[1090,815,'N+','b',17]] },
	{ ox:1040, oy:0, sx:1.663, sy:3, size:16,
	  bonds:[[107,240,161,237,192,325,163,418,110,420,80,325,107,240,'k'],[118,255,152,252,'k'],[177,325,155,400,'k'],[95,325,117,400,'k'],[163,418,197,502,'k'],[197,502,245,497,'kb'],[262,478,285,410,'bk'],[285,410,270,345,'kb'],[285,410,335,440,'kb'],[290,425,330,450,'kb'],[340,462,342,545,'b'],[342,545,288,578,'k'],[258,515,288,578,'bk'],[288,578,280,680,323,745,375,710,385,610,342,545,'k'],[350,570,377,610,'k'],[368,695,330,725,'k'],[290,668,296,590,'k'],[355,420,383,378,'bk'],[383,378,435,415,483,352,533,390,578,327,632,365,648,345,'k'],[648,345,667,317,'r'],
	         [722,232,708,310,'k'],[708,310,697,380,'b'],[680,418,598,455,'bk'],[598,455,598,630,'k'],[612,478,612,610,'k'],[598,630,680,675,'kb'],[700,420,750,543,'bk'],[750,543,705,660,'kb'],[730,545,692,640,'b'],[705,710,722,856,'bk'],[750,543,850,543,'k'],[850,543,898,388,995,388,1045,543,995,698,898,698,850,543,'k'],[915,415,985,415,'k'],[865,550,905,670,'k'],[1030,545,988,670,'k'],
	         [1272,70,1337,135,1337,270,1272,335,1207,270,1207,135,1272,70,'k'],[1272,92,1322,140,'k'],[1322,262,1272,310,'k'],[1221,255,1221,150,'k'],[1272,335,1272,392,'k'],[1272,392,1272,450,'o'],
	         [1272,605,1337,670,1337,808,1272,873,1207,808,1207,670,1272,605,'k'],[1325,685,1325,795,'k'],[1272,850,1222,800,'k'],[1222,680,1272,630,'k'],[1272,495,1272,550,'o'],[1272,550,1272,605,'k'],
	         [1198,472,1160,355,1087,355,1050,472,1087,590,1160,590,1198,472,'k'],[1095,375,1150,375,'k'],[1175,470,1145,380,'k'],[1095,567,1150,567,'k'],[1198,472,1228,472,'k'],[1228,472,1260,472,'o'],
	         [1347,472,1385,355,1457,355,1495,472,1457,590,1385,590,1347,472,'k'],[1395,375,1450,375,'k'],[1480,470,1450,565,'k'],[1365,470,1393,565,'k'],[1292,472,1320,472,'o'],[1320,472,1347,472,'k']],
	  labels:[[323,170,'Br-','n'],[800,112,'Br-','n'],[252,320,'H2N','b'],[252,498,'N','b'],[340,440,'N+','b'],[682,300,'OH','r'],[690,402,'N','b'],[695,688,'N+','b'],[1272,472,'P+','o'],[1538,475,'Cl-','g',19]] },
	{ ox:1040, oy:1110, sx:1.663, sy:3, size:17,
	  bonds:[[390,190,390,242,'f'],[390,242,390,292,'k'],[390,335,390,385,'k'],[390,385,390,438,'f'],[322,313,350,313,'f'],[350,313,372,313,'k'],[408,313,432,313,'k'],[432,313,458,313,'f'],
	         [712,230,738,320,'ry'],[728,225,752,315,'ry'],[738,360,775,462,'yr'],[755,355,790,450,'yr'],[905,325,935,225,'yr'],[890,320,922,225,'yr'],[890,360,857,462,'yr'],[905,362,872,462,'yr'],[810,278,758,328,'by'],[836,278,885,328,'by'],[735,358,673,420,'yk'],[912,362,973,420,'yk'],
	         [673,420,640,312,'kf'],[673,420,607,485,'kf'],[673,420,710,535,'kf'],[973,420,1008,312,'kf'],[973,420,1038,485,'kf'],[973,420,935,535,'kf'],
	         [1225,352,1255,382,'rb'],[1305,352,1275,380,'rb'],[1260,410,1260,490,'br'],[1270,410,1270,490,'br'],
	         [63,660,122,755,198,710,258,805,335,760,395,857,'k'],[395,857,455,825,'kb'],[478,790,497,675,'bk'],[490,765,503,695,'bk'],[497,675,562,673,'kb'],[590,640,623,557,'bk'],[583,695,600,810,'bk'],[600,810,537,897,'k'],[585,805,538,870,'k'],[537,897,485,830,'kb'],
	         [768,655,841,657,'bk'],[772,682,835,682,'bk'],[841,657,878,775,'kb'],[745,680,713,795,'bk'],[713,795,756,929,842,929,'k'],[728,795,765,905,'k'],[842,929,880,815,'kb'],[835,905,868,825,'kb'],[905,793,970,793,'bk'],
	         [1017,602,1043,648,'b'],[1027,598,1053,644,'b'],[1055,684,1083,734,'b'],[1065,680,1093,730,'b'],[1104,745,1158,728,'bk'],[1158,728,1201,810,'k'],[1201,810,1230,800,'kb'],[1270,775,1283,700,'b'],[1300,695,1350,695,'bk'],[1295,705,1340,710,'bk'],[1350,695,1358,790,'kb'],[1345,822,1308,860,'bk'],[1345,800,1312,840,'bk'],[1308,860,1272,805,'kb'],[1350,695,1385,625,'kb'],
	         [1405,605,1440,620,'b'],[1400,618,1435,632,'b'],[1470,630,1503,645,'b'],[1465,643,1498,658,'b']],
	  labels:[[390,313,'B-','d'],[390,168,'F','f'],[310,313,'F','f'],[470,313,'F','f'],[390,458,'F','f'],[823,263,'N-','b'],[748,342,'S','y'],[898,342,'S','y'],[705,207,'O','r'],[790,476,'O','r'],[940,207,'O','r'],[855,476,'O','r'],[630,285,'F','f'],[598,495,'F','f'],[715,553,'F','f'],[1016,285,'F','f'],[1047,495,'F','f'],[930,553,'F','f'],[1265,392,'N+','b'],[1212,337,'O-','r'],[1318,337,'O-','r'],[1265,507,'O','r'],[470,815,'N+','b'],[575,675,'N','b'],[755,660,'N','b'],[885,795,'N+','b'],[1015,583,'N-','b'],[1055,665,'N+','b'],[1095,750,'N','b'],[1255,788,'HN+','b'],[1287,683,'N','b'],[1362,805,'N','b'],[1390,610,'N','b'],[1453,632,'N+','b'],[1515,655,'N-','b']] }
];

function seg(x1, y1, x2, y2, c) {
	el('line', { x1:x1, y1:y1, x2:x2, y2:y2, stroke:atomColor[c], 'stroke-width':1.3 });
}
sheets.forEach(s => {
	const px = v => s.ox + v / s.sx, py = v => s.oy + v / s.sy;
	s.bonds.forEach(b => {
		const code = b[b.length - 1];
		for (let i = 0; i + 3 < b.length - 1; i += 2) {
			const x1 = px(b[i]), y1 = py(b[i + 1]), x2 = px(b[i + 2]), y2 = py(b[i + 3]);
			if (code.length == 2) {
				seg(x1, y1, (x1 + x2) / 2, (y1 + y2) / 2, code[0]);
				seg((x1 + x2) / 2, (y1 + y2) / 2, x2, y2, code[1]);
			} else {
				seg(x1, y1, x2, y2, code);
			}
		}
	});
	s.labels.forEach(l => {
		const size = l[4] || s.size;
		const t = el('text', { x:px(l[0]), y:py(l[1]) + size * 0.36, fill:atomColor[l[3]], 'text-anchor':'middle', 'font-family':'"Liberation Sans", sans-serif', 'font-size':size });
		l[2].split(/([0-9+\-])/).forEach(part => {
			if (!part) return;
			const ts = document.createElementNS(NS, 'tspan');
			ts.textContent = part;
			if (/[0-9]/.test(part)) { ts.setAttribute('font-size', size * 0.65); ts.setAttribute('baseline-shift', 'sub'); }
			if (/[+\-]/.test(part)) { ts.setAttribute('font-size', size * 0.6); ts.setAttribute('baseline-shift', 'super'); }
			t.appendChild(ts);
		});
	});
});

el('text', { x:38, y:50, 'font-family':serif, 'font-weight':'bold', 'font-size':44, fill:'#000' }, '(A)');
el('text', { x:1079, y:52, 'font-family':serif, 'font-weight':'bold', 'font-size':44, fill:'#000' }, '(B)');

// colour bar title, T with subscript m
const barTitle = el('text', { transform:'translate(1971,701) rotate(-90)', 'text-anchor':'middle', 'font-family':serif, 'font-size':25, 'font-weight':'bold', fill:'#111' });
[['T','italic',null],['m','italic','sub'],['(K)','normal',null]].forEach(p => {
	const ts = document.createElementNS(NS, 'tspan');
	ts.textContent = p[0];
	ts.setAttribute('font-style', p[1]);
	if (p[2]) { ts.setAttribute('baseline-shift', p[2]); ts.setAttribute('font-size', 18); }
	if (p[0] == '(K)') ts.setAttribute('font-weight', 'normal');
	barTitle.appendChild(ts);
});
</script>
</body>
</html>
